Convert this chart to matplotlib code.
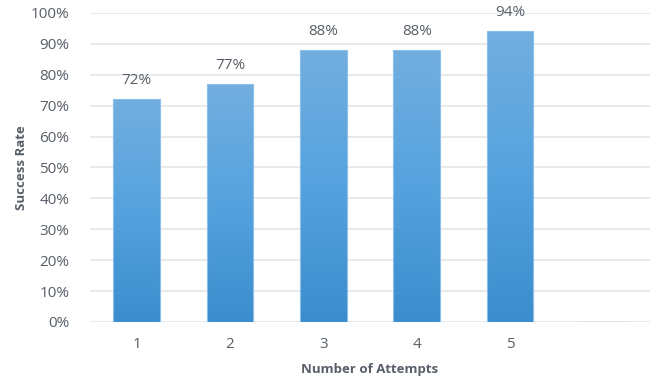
import numpy as np
import matplotlib
matplotlib.use('Agg')
import matplotlib.pyplot as plt
from matplotlib.colors import LinearSegmentedColormap
from matplotlib.ticker import FuncFormatter

attempts = ['1', '2', '3', '4', '5', '']
success_rate = [72, 77, 88, 88, 94, None]

text_color = '#585F68'
grid_color = '#E1E5EB'

plt.rcParams['font.family'] = ['Open Sans', 'DejaVu Sans']

fig = plt.figure(figsize=(6.54, 3.81), dpi=100)
ax = fig.add_axes([0.1376, 0.155, 0.8564, 0.811])

x = np.arange(len(attempts))
heights = [v if v is not None else 0 for v in success_rate]
bars = ax.bar(x, heights, width=0.5, color='none', edgecolor='#8CC0EA', linewidth=0.8, zorder=3)

# vertical gradient, darker at the base
cmap = LinearSegmentedColormap.from_list('bar_grad', ['#3B8DCD', '#55A2DE', '#72AFE0'])
grad = np.linspace(0, 1, 256).reshape(-1, 1)
for bar, v in zip(bars, success_rate):
    if v is None:
        continue
    x0 = bar.get_x()
    im = ax.imshow(grad, cmap=cmap, origin='lower', aspect='auto',
                   extent=[x0, x0 + bar.get_width(), 0, v], zorder=2)
    im.set_clip_path(bar)
    ax.text(bar.get_x() + bar.get_width() / 2, v + 3.6, f'{v}%', ha='center', va='bottom',
            fontsize=11, color=text_color)

ax.set_xlim(-0.5, len(attempts) - 0.5)
ax.set_ylim(0, 100)
ax.set_yticks(np.arange(0, 101, 10))
ax.yaxis.set_major_formatter(FuncFormatter(lambda v, p: f'{int(v)}%'))
ax.set_xticks(x)
ax.set_xticklabels(attempts)
ax.grid(axis='y', color=grid_color, linewidth=1.2, zorder=0)
ax.set_axisbelow(True)
for s in ax.spines.values():
    s.set_visible(False)
ax.tick_params(axis='both', length=0, labelsize=11, colors=text_color)
ax.tick_params(axis='y', pad=15)
ax.tick_params(axis='x', pad=11)

ax.set_ylabel('Success Rate', fontsize=9.5, fontweight='bold', color=text_color, labelpad=1.5)
ax.set_xlabel('Number of Attempts', fontsize=9.5, fontweight='bold', color=text_color, labelpad=8)

fig.savefig('out.png', dpi=100)
